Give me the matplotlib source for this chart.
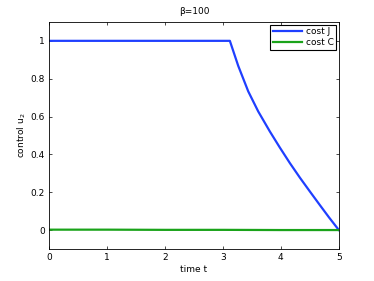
import matplotlib
matplotlib.use("Agg")
import matplotlib.pyplot as plt

# blue curve: cost J
t_j = [0, 3.12, 3.264, 3.437, 3.609, 3.81, 3.98, 4.155, 4.33, 4.5, 4.67, 4.83, 5.0]
u_j = [1, 1, 0.868, 0.733, 0.627, 0.521, 0.437, 0.354, 0.276, 0.204, 0.133, 0.067, 0.0]
# green curve: cost C
t_c = [0, 1, 2, 3, 4, 5]
u_c = [0.002, 0.002, 0.001, 0.001, 0.0, 0.0]

xticks = [0, 1, 2, 3, 4, 5]
yticks = [0, 0.2, 0.4, 0.6, 0.8, 1]
ytick_labels = ["0", "0.2", "0.4", "0.6", "0.8", "1"]

plt.rcParams["font.family"] = "DejaVu Sans"
fig = plt.figure(figsize=(3.74, 2.81), dpi=100)
ax = fig.add_axes([0.131, 0.114, 0.775, 0.808])

ax.plot(t_j, u_j, color="#1f3fff", lw=1.6, label="cost J")
ax.plot(t_c, u_c, color="#1aa31a", lw=1.6, label="cost C")

ax.set_xlim(0, 5)
ax.set_ylim(-0.1, 1.1)
ax.set_xticks(xticks)
ax.set_xticklabels([str(x) for x in xticks])
ax.set_yticks(yticks)
ax.set_yticklabels(ytick_labels)
ax.tick_params(direction="in", top=True, right=True, labelsize=6.5, length=2.5, width=0.5, pad=3)
for s in ax.spines.values():
    s.set_linewidth(0.6)

ax.set_xlabel("time t", fontsize=6.5, labelpad=2)
ax.set_ylabel("control u$_2$", fontsize=6.5, labelpad=2)
ax.set_title("β=100", fontsize=6.5, pad=6)

leg = ax.legend(loc="upper right", fontsize=6.5, fancybox=False, framealpha=1,
                edgecolor="black", borderpad=0.3, handlelength=3.2,
                labelspacing=0.2, borderaxespad=0.3, handletextpad=0.4)
leg.get_frame().set_linewidth(0.8)

fig.savefig("out.png", dpi=100)
